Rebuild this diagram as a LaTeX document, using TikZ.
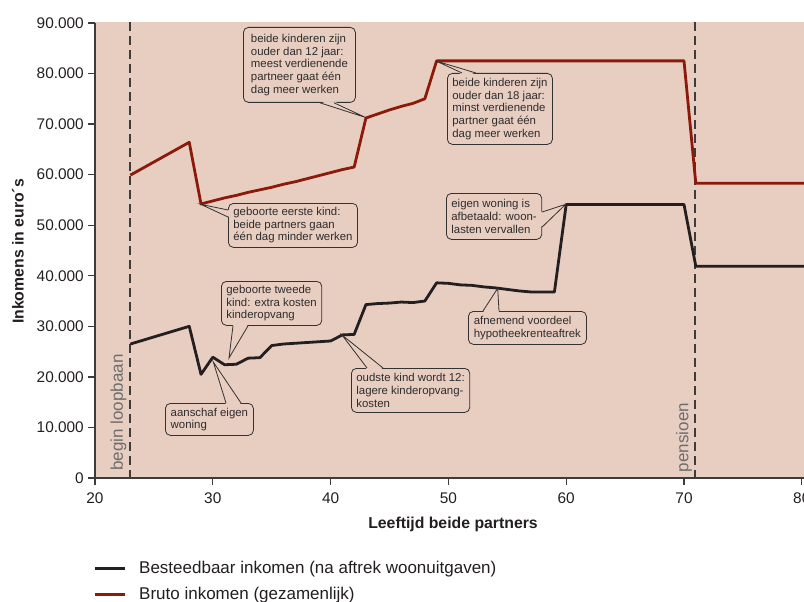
\documentclass[tikz,border=0pt]{standalone}
\usepackage{fontspec}
\setmainfont{Liberation Sans}
\usetikzlibrary{calc}
\definecolor{bgpink}{RGB}{232,205,193}
\definecolor{redline}{RGB}{140,26,10}
\definecolor{blackline}{RGB}{35,31,32}
\definecolor{axisc}{RGB}{60,60,60}
\definecolor{boxc}{RGB}{50,50,50}
\definecolor{txtc}{RGB}{45,45,45}
\definecolor{graytxt}{RGB}{110,110,110}
\begin{document}
\begin{tikzpicture}[x=1pt,y=-1pt,
  callout/.style={draw=boxc, fill=bgpink, rounded corners=5pt, line width=0.8pt,
    text=txtc, align=left, anchor=north west, inner xsep=5pt, inner ysep=2pt,
    font=\fontsize{11.4}{12.6}\selectfont},
  tailline/.style={draw=boxc, line width=0.8pt, line join=miter},
  tailfill/.style={fill=bgpink},
  axisline/.style={draw=axisc, line width=1.3pt},
  dashline/.style={draw=axisc, line width=1.3pt, dash pattern=on 9pt off 5pt},
  ticklabel/.style={text=blackline, font=\fontsize{15.4}{17}\selectfont, inner sep=0pt},
  axistitle/.style={text=blackline, font=\fontsize{15.8}{18}\selectfont\bfseries, inner sep=0pt},
  vlabel/.style={text=graytxt, font=\fontsize{17}{19}\selectfont, rotate=90, inner sep=0pt},
  dataline/.style={line width=2.8pt, line join=round},
  legtext/.style={text=blackline, font=\fontsize{17}{19}\selectfont, anchor=west, inner sep=0pt}
]
\useasboundingbox (0,0) rectangle (804,602);
\fill[white] (0,0) rectangle (804,602);
\fill[bgpink] (95,22) rectangle (804,478);

% vertical markers
\coordinate (d1a) at (130,22); \coordinate (d1b) at (130,478);
\coordinate (d2a) at (695,22); \coordinate (d2b) at (695,478);
\draw[dashline] (d1a) -- (d1b);
\draw[dashline] (d2a) -- (d2b);
\node[vlabel] (begin) at (118.5,412.5) {begin loopbaan};
\node[vlabel] (pens) at (684,437.5) {pensioen};

% axes
\draw[axisline] (95,23) -- (95,478) -- (804,478);
\foreach \v/\l in {0/0,10/10.000,20/20.000,30/30.000,40/40.000,50/50.000,60/60.000,70/70.000,80/80.000,90/90.000}{
  \draw[axisline] (88,{478-\v*5.056}) -- (95,{478-\v*5.056});
  \node[ticklabel, anchor=east] (yl\v) at (84,{478-\v*5.056}) {\l};
}
\foreach \a in {20,30,...,80}{
  \draw[axisline] ({95+(\a-20)*11.78},478) -- ({95+(\a-20)*11.78},485);
  \node[ticklabel] (xl\a) at ({95+(\a-20)*11.78},498) {\a};
}
\node[axistitle, rotate=90] (ytitle) at (18,251.5) {Inkomens in euro´s};
\node[axistitle] (xtitle) at (453,524) {Leeftijd beide partners};

% callout boxes
\node[callout, minimum width=112pt, minimum height=75pt] (c1) at (243,27)
  {beide kinderen zijn\\ouder dan 12 jaar:\\meest verdienende\\partneer gaat één\\dag meer werken};
\node[callout, minimum width=103pt, minimum height=71pt] (c2) at (447,73)
  {beide kinderen zijn\\ouder dan 18 jaar:\\minst verdienende\\partner gaat één\\dag meer werken};
\node[callout, minimum width=129pt, minimum height=44pt] (c3) at (228,203)
  {geboorte eerste kind:\\beide partners gaan\\één dag minder werken};
\node[callout, minimum width=94pt, minimum height=46pt] (c4) at (446,193)
  {eigen woning is\\afbetaald: woon-\\lasten vervallen};
\node[callout, minimum width=97pt, minimum height=44pt] (c5) at (221,281)
  {geboorte tweede\\kind: extra kosten\\kinderopvang};
\node[callout, minimum width=88pt, minimum height=32pt] (c6) at (165,403)
  {aanschaf eigen\\woning};
\node[callout, minimum width=118pt, minimum height=44pt] (c7) at (351,368)
  {oudste kind wordt 12:\\lagere kinderopvang-\\kosten};
\node[callout, minimum width=118pt, minimum height=33pt] (c8) at (468,311)
  {afnemend voordeel\\hypotheekrenteaftrek};

% tail tips
\coordinate (t1) at (365.7,117.5);
\coordinate (t2) at (436,61);
\coordinate (t3) at (200.7,204.3);
\coordinate (t4) at (565.7,204.3);
\coordinate (t5) at (229,358);
\coordinate (t6) at (213.3,362);
\coordinate (t7) at (342,335);
\coordinate (t8) at (497.7,288.3);

% tail openings
\fill[tailfill] ($(c1.south west)+(77,-1.5)$) -- (t1) -- ($(c1.south west)+(91,-1.5)$) -- cycle;
\fill[tailfill] ($(c2.north west)+(15,1.5)$) -- (t2) -- ($(c2.north west)+(29,1.5)$) -- cycle;
\fill[tailfill] ($(c3.north west)+(1.5,7)$) -- (t3) -- ($(c3.north west)+(1.5,14)$) -- cycle;
\fill[tailfill] ($(c4.north east)+(-1.5,19)$) -- (t4) -- ($(c4.north east)+(-1.5,34)$) -- cycle;
\fill[tailfill] ($(c5.south west)+(12,-1.5)$) -- (t5) -- ($(c5.south west)+(27,-1.5)$) -- cycle;
\fill[tailfill] ($(c6.north west)+(61,1.5)$) -- (t6) -- ($(c6.north west)+(76,1.5)$) -- cycle;
\fill[tailfill] ($(c7.north west)+(16,1.5)$) -- (t7) -- ($(c7.north west)+(32,1.5)$) -- cycle;
\fill[tailfill] ($(c8.north west)+(15,1.5)$) -- (t8) -- ($(c8.north west)+(31,1.5)$) -- cycle;

% data
\begin{scope}[shift={(-140.6,478)}, x=11.78pt, y=5.056pt]
\draw[dataline, redline] (23,59.9) -- (28,66.4) -- (29,54.2) -- (30,54.8) -- (31,55.4) -- (32,55.9)
  -- (33,56.5) -- (34,57.0) -- (35,57.5) -- (36,58.1) -- (37,58.6) -- (38,59.2) -- (39,59.8)
  -- (40,60.4) -- (41,61.0) -- (42,61.5) -- (43,71.2) -- (44,72.0) -- (45,72.8) -- (46,73.5)
  -- (47,74.1) -- (48,75.0) -- (49,82.5) -- (70,82.5) -- (71,58.3) -- (80.3,58.3);
\draw[dataline, blackline] (23,26.5) -- (28,30.0) -- (29,20.5) -- (30,23.9) -- (31,22.4) -- (32,22.5)
  -- (33,23.7) -- (34,23.8) -- (35,26.2) -- (36,26.5) -- (38,26.8) -- (40,27.1) -- (41,28.3)
  -- (42,28.4) -- (43,34.3) -- (44,34.5) -- (45,34.6) -- (46,34.8) -- (47,34.7) -- (48,35.0)
  -- (49,38.6) -- (50,38.5) -- (51,38.2) -- (52,38.1) -- (53,37.8) -- (54,37.6) -- (55,37.3)
  -- (56,37.0) -- (57,36.8) -- (59,36.8) -- (60,54.1) -- (70,54.1) -- (71,41.9) -- (80.3,41.9);
\end{scope}

% tail lines
\draw[tailline] ($(c1.south west)+(77,0)$) -- (t1) -- ($(c1.south west)+(91,0)$);
\draw[tailline] ($(c2.north west)+(15,0)$) -- (t2) -- ($(c2.north west)+(29,0)$);
\draw[tailline] ($(c3.north west)+(0,7)$) -- (t3) -- ($(c3.north west)+(0,14)$);
\draw[tailline] ($(c4.north east)+(0,19)$) -- (t4) -- ($(c4.north east)+(0,34)$);
\draw[tailline] ($(c5.south west)+(12,0)$) -- (t5) -- ($(c5.south west)+(27,0)$);
\draw[tailline] ($(c6.north west)+(61,0)$) -- (t6) -- ($(c6.north west)+(76,0)$);
\draw[tailline] ($(c7.north west)+(16,0)$) -- (t7) -- ($(c7.north west)+(32,0)$);
\draw[tailline] ($(c8.north west)+(15,0)$) -- (t8) -- ($(c8.north west)+(31,0)$);

% legend
\draw[line width=3pt, blackline] (95,568) -- (125,568);
\node[legtext] (lg1) at (139,569) {Besteedbaar inkomen (na aftrek woonuitgaven)};
\draw[line width=3pt, redline] (95,594) -- (125,594);
\node[legtext] (lg2) at (139,595) {Bruto inkomen (gezamenlijk)};
\end{tikzpicture}
\end{document}
